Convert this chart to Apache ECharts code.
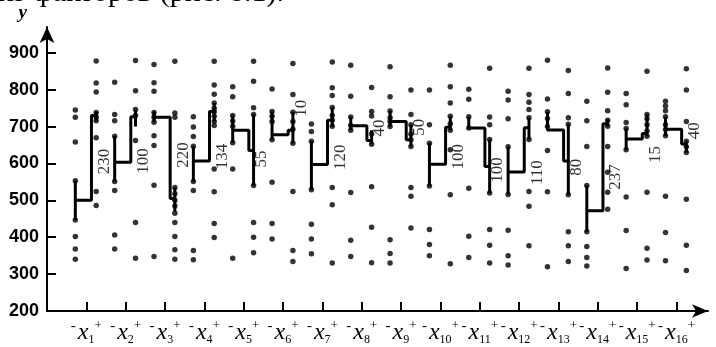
<!DOCTYPE html>
<html>
<head>
<meta charset="utf-8">
<script src="https://cdn.jsdelivr.net/npm/echarts@6/dist/echarts.min.js"></script>
<style>
  html, body { margin: 0; padding: 0; background: #fff; }
  #chart { width: 716px; height: 347px; }
</style>
</head>
<body>
<div id="chart"></div>
<script>
  // факторы x1..x16
  var factors = [1, 2, 3, 4, 5, 6, 7, 8, 9, 10, 11, 12, 13, 14, 15, 16];

  // значения y на нижнем уровне (-) фактора
  var minusPoints = [
    [745, 725, 658, 553, 447, 402, 368, 340],
    [820, 733, 716, 674, 551, 527, 406, 368],
    [868, 819, 796, 738, 725, 712, 675, 649, 541, 348],
    [727, 699, 673, 647, 551, 527, 364, 339],
    [808, 781, 730, 715, 701, 656, 585, 343],
    [802, 741, 728, 714, 664, 549, 437, 395],
    [707, 687, 660, 529, 435, 395, 355],
    [866, 782, 726, 703, 690, 521, 392, 348],
    [862, 781, 742, 724, 714, 700, 393, 356, 330],
    [799, 705, 655, 539, 421, 380, 350],
    [801, 774, 727, 696, 533, 403, 345],
    [796, 772, 721, 645, 516, 419, 350, 325],
    [880, 775, 740, 722, 700, 635, 523, 320],
    [769, 716, 646, 540, 415, 375, 345, 322],
    [790, 759, 711, 695, 637, 509, 418, 315],
    [769, 756, 743, 727, 705, 692, 675, 511, 413, 336]
  ];

  // значения y на верхнем уровне (+) фактора
  var plusPoints = [
    [878, 818, 794, 738, 726, 716, 670, 524, 486],
    [879, 797, 746, 730, 662, 440, 343],
    [877, 737, 725, 535, 518, 500, 485, 465, 440, 402, 366, 340],
    [877, 813, 788, 764, 750, 740, 728, 714, 703, 585, 523, 437, 399],
    [877, 823, 751, 733, 540, 440, 400, 358],
    [871, 787, 739, 714, 693, 655, 524, 364, 334],
    [875, 805, 784, 752, 730, 717, 701, 535, 488, 330],
    [806, 741, 729, 680, 652, 537, 427, 331],
    [799, 733, 705, 680, 664, 646, 535, 511, 425],
    [866, 808, 764, 728, 708, 690, 637, 515, 328],
    [858, 726, 705, 665, 520, 421, 378, 330],
    [858, 787, 766, 746, 724, 665, 524, 484, 377],
    [852, 790, 724, 706, 515, 415, 377, 334],
    [859, 793, 743, 717, 701, 646, 576, 522, 476],
    [850, 733, 721, 705, 688, 674, 522, 370, 338],
    [857, 799, 714, 660, 645, 630, 503, 378, 310]
  ];

  // медианы по уровням
  var medMinus = [500, 603, 725, 607, 690, 678, 597, 702, 714, 598, 696, 577, 691, 472, 666, 693];
  var medPlus  = [730, 727, 505, 741, 635, 690, 717, 662, 664, 698, 592, 697, 607, 708, 681, 653];

  // средние отрезки (жирные вертикали)
  var barMinus = [[447,553],[551,674],[712,740],[551,647],[656,730],[664,741],[529,660],[690,726],
                  [700,742],[539,655],[696,727],[516,645],[700,740],[415,540],[637,695],[675,727]];
  var barPlus  = [[716,740],[700,746],[470,535],[714,764],[540,733],[655,739],[700,752],[652,690],
                  [646,705],[690,728],[520,665],[665,724],[515,706],[701,720],[674,733],[630,660]];

  // вклады факторов и уровень подписи
  var diffLabels = ['230', '100', '220', '134', '55', '10', '120', '40', '50', '100', '100', '110', '80', '237', '15', '40'];
  var labelLevel = [605, 607, 623, 619, 612, 750, 617, 696, 698, 618, 582, 575, 590, 563, 624, 689];

  var yTicks = [200, 300, 400, 500, 600, 700, 800, 900];

  var MINUS = -0.28, JOIN = 0.13, PLUS = 0.25, LABEL = 0.46;
  var serif = 'Liberation Serif';

  var series = [];

  // ступеньки медиан
  factors.forEach(function (k, i) {
    var m = k + MINUS, j = k + JOIN, p = k + PLUS;
    series.push({
      type: 'line',
      silent: true,
      symbol: 'none',
      z: 3,
      lineStyle: { color: '#000', width: 3 },
      data: [
        [m, barMinus[i][0]], [m, barMinus[i][1]], [m, medMinus[i]],
        [j, medMinus[i]], [j, medPlus[i]], [p, medPlus[i]],
        [p, barPlus[i][0]], [p, barPlus[i][1]]
      ]
    });
  });

  // точки
  var dots = [];
  factors.forEach(function (k, i) {
    minusPoints[i].forEach(function (v) { dots.push([k + MINUS, v]); });
    plusPoints[i].forEach(function (v) { dots.push([k + PLUS, v]); });
  });
  series.push({
    type: 'scatter',
    silent: true,
    symbolSize: 5.5,
    z: 4,
    itemStyle: { color: '#000' },
    data: dots
  });

  // подписи вкладов
  series.push({
    type: 'scatter',
    silent: true,
    symbolSize: 1,
    z: 5,
    itemStyle: { color: 'transparent' },
    label: {
      show: true,
      position: 'inside',
      rotate: 90,
      fontFamily: serif,
      fontSize: 17,
      color: '#000',
      formatter: function (p) { return p.value[2]; }
    },
    data: factors.map(function (k, i) { return [k + LABEL, labelLevel[i], diffLabels[i]]; })
  });

  var chart = echarts.init(document.getElementById('chart'));
  chart.setOption({
    animation: false,
    backgroundColor: '#fff',
    graphic: [{
      type: 'text',
      left: -2,
      top: -22,
      style: { text: 'из факторов (рис. 8.1).', font: '30px "Liberation Serif"', fill: '#000' }
    }],
    grid: { left: 47, right: 8, top: 27, bottom: 36 },
    xAxis: {
      type: 'value',
      min: 0,
      max: 16.8,
      interval: 1,
      splitLine: { show: false },
      axisLine: {
        lineStyle: { color: '#000', width: 2 },
        symbol: ['none', 'arrow'],
        symbolSize: [10, 16]
      },
      axisTick: { inside: true, length: 9, lineStyle: { color: '#000', width: 2 }, customValues: factors },
      axisLabel: {
        customValues: factors,
        margin: 8,
        hideOverlap: false,
        showMinLabel: true,
        showMaxLabel: true,
        formatter: function (v) { return '{m|-}{x|x}{s|' + v + '}{p|+}'; },
        rich: {
          m: { fontFamily: serif, fontSize: 15, color: '#000', verticalAlign: 'top', padding: [0, 2, 0, 0] },
          x: { fontFamily: serif, fontStyle: 'italic', fontSize: 24, color: '#000', verticalAlign: 'middle', lineHeight: 27 },
          s: { fontFamily: serif, fontSize: 12, color: '#000', verticalAlign: 'bottom' },
          p: { fontFamily: serif, fontSize: 13, color: '#000', verticalAlign: 'top' }
        }
      }
    },
    yAxis: {
      type: 'value',
      min: 200,
      max: 970,
      interval: 100,
      name: 'y',
      nameGap: 4,
      nameTextStyle: {
        fontFamily: serif, fontStyle: 'italic', fontWeight: 'bold', fontSize: 19,
        color: '#000', align: 'right', padding: [0, 20, 0, 0]
      },
      splitLine: { show: false },
      axisLine: {
        show: true,
        lineStyle: { color: '#000', width: 2 },
        symbol: ['none', 'arrow'],
        symbolSize: [11, 16]
      },
      axisTick: { show: true, inside: true, length: 9, lineStyle: { color: '#000', width: 2 }, customValues: yTicks },
      axisLabel: {
        customValues: yTicks,
        margin: 8,
        fontFamily: 'Liberation Sans',
        fontWeight: 'bold',
        fontSize: 18,
        color: '#000'
      }
    },
    series: series
  });
</script>
</body>
</html>
